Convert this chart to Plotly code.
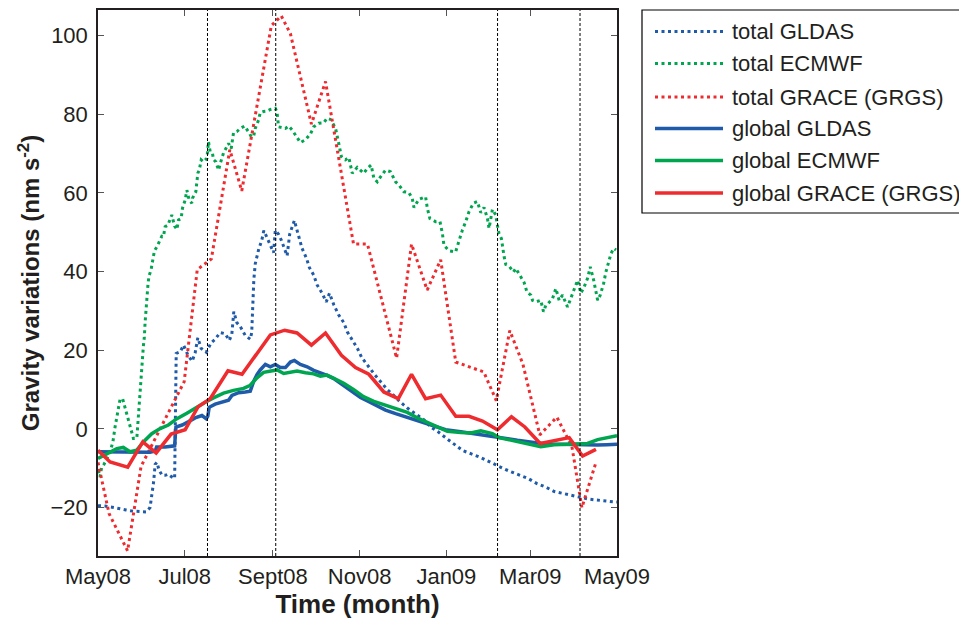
import pandas as pd
import plotly.graph_objects as go

START = pd.Timestamp("2008-05-01")

# ---- total GLDAS (days since 1 May 2008, values nm s^-2)
gldas_total_day = [0, 4.9, 9.9, 14.8, 19.7, 24.7, 29.6, 33.8, 36.6, 38.0, 39.1, 40.2, 41.4, 43.0, 45.1, 47.2,
                   49.3, 51.9, 53.9, 55.0, 57.8, 60.2, 63.2, 66.2, 68.3, 70.2, 72.5, 76.1, 79.6, 82.4, 85.9,
                   89.5, 92.3, 94.1, 95.5, 97.7, 100.1, 103.5, 107.1, 108.1, 108.9, 109.6, 110.6, 112.9, 115.2,
                   116.6, 118.4, 121.2, 123.5, 124.7, 127.0, 128.9, 130.7, 133.0, 134.8, 136.5, 138.1, 140.0,
                   141.9, 143.5, 146.6, 148.7, 151.7, 154.1, 157.6, 160.5, 162.8, 165.9, 169.2, 172.9, 175.3,
                   178.8, 182.4, 185.4, 190.1, 194.8, 198.8, 203.5, 208.1, 212.1, 217.6, 223.4, 229.3, 234.0,
                   239.4, 245.8, 251.6, 256.5, 262.2, 268.7, 275.1, 279.8, 284.7, 289.8, 296.2, 302.5, 308.7,
                   315.0, 320.9, 326.8, 333.1, 339.2, 344.4, 348.6, 355.0, 359.4, 365.0]
gldas_total = [-19.5, -19.6, -19.9, -20.3, -20.6, -20.9, -21.0, -21.1, -20.0, -16.5, -13.5, -9.0, -8.5, -10.5,
               -11.8, -11.8, -11.5, -12.2, -12.6, 19.2, 19.6, 21.3, 18.8, 17.2, 19.3, 23.2, 20.5, 19.5, 21.9,
               22.8, 24.5, 24.2, 22.5, 24.0, 29.8, 27.0, 26.0, 23.8, 22.8, 24.5, 32.5, 38.0, 42.0, 45.5, 48.0,
               50.4, 49.0, 46.5, 44.8, 50.5, 49.5, 48.0, 46.0, 44.0, 49.5, 51.4, 53.0, 50.5, 48.0, 45.9, 43.4,
               41.0, 39.1, 36.6, 34.5, 32.3, 34.5, 31.5, 29.0, 27.0, 24.7, 22.6, 20.5, 18.2, 15.8, 13.7, 12.0,
               10.0, 8.5, 7.0, 5.3, 3.9, 2.3, 0.5, -0.8, -2.6, -4.3, -5.5, -6.3, -7.2, -8.3, -9.2, -10.0, -10.8,
               -11.8, -12.6, -13.9, -14.8, -15.9, -16.4, -16.9, -17.3, -17.8, -18.0, -18.3, -18.4, -18.6]

# ---- total ECMWF
ecmwf_total_day = [0.2, 1.4, 2.6, 4.2, 8.5, 10.6, 12.0, 13.9, 15.5, 17.3, 19.5, 21.3, 23.3, 24.9, 27.3, 28.4,
                   29.6, 30.8, 31.5, 31.9, 32.6, 33.1, 33.8, 34.5, 35.2, 35.9, 37.3, 38.3, 39.7, 41.4, 43.7,
                   44.9, 46.0, 47.2, 49.1, 50.7, 51.9, 53.8, 55.5, 56.6, 58.5, 59.4, 61.3, 62.5, 64.1, 66.0,
                   66.4, 68.8, 69.5, 70.2, 71.2, 72.6, 74.2, 76.6, 77.7, 78.9, 80.5, 81.2, 82.9, 84.8, 86.0,
                   88.3, 90.7, 91.8, 93.7, 95.3, 97.7, 100.1, 103.1, 104.8, 106.4, 107.8, 109.4, 110.6, 112.9,
                   114.1, 116.5, 119.1, 121.2, 124.7, 125.9, 127.0, 128.2, 130.6, 131.8, 134.1, 136.5, 140.0,
                   142.3, 145.9, 149.4, 151.7, 155.2, 158.7, 161.1, 163.5, 167.0, 169.3, 171.2, 172.8, 174.0,
                   176.4, 178.8, 182.3, 184.6, 186.9, 189.3, 192.1, 194.0, 196.4, 198.7, 202.2, 205.7, 209.3,
                   211.6, 215.1, 218.6, 221.0, 222.2, 225.7, 230.4, 231.6, 233.4, 237.4, 240.5, 242.2, 243.3,
                   246.8, 251.5, 253.9, 256.3, 258.6, 260.9, 264.0, 266.8, 269.2, 271.5, 273.9, 275.0, 277.4,
                   279.7, 280.9, 282.0, 283.7, 284.4, 285.6, 286.8, 289.1, 292.2, 293.8, 297.3, 299.7, 301.6,
                   304.4, 305.6, 307.9, 311.4, 313.3, 315.0, 316.6, 319.7, 322.0, 324.3, 326.7, 330.2, 332.6,
                   335.4, 337.3, 339.6, 341.9, 344.3, 346.2, 348.6, 351.4, 353.2, 355.6, 357.2, 359.5, 360.8,
                   362.7, 364.3]
ecmwf_total = [-10.5, -12.2, -9.7, -9.0, -6.0, -3.0, 0.5, 4.8, 7.5, 7.7, 4.8, 2.2, -0.3, -2.4, -2.4, 2.6,
               8.1, 14.5, 19.0, 21.0, 23.4, 27.0, 31.0, 34.0, 37.0, 38.9, 40.4, 42.5, 45.3, 46.3, 48.2,
               49.0, 48.9, 51.4, 51.8, 53.1, 54.4, 51.6, 50.7, 53.1, 53.5, 56.1, 58.2, 60.7, 58.2, 57.4,
               58.6, 60.3, 62.9, 65.0, 65.8, 68.4, 67.9, 68.8, 73.0, 70.5, 70.1, 68.5, 67.9, 65.8, 67.5,
               70.2, 71.8, 72.6, 71.3, 75.3, 75.6, 76.4, 77.0, 76.2, 75.2, 74.3, 74.3, 76.4, 78.5,
               80.4, 80.7, 80.8, 81.2, 81.5, 80.5, 76.8, 76.7, 76.4, 76.4, 77.0, 76.0, 74.1,
               72.8, 73.5, 75.0, 76.8, 77.7, 77.8, 79.0, 78.7, 76.5, 72.6, 69.2, 68.5, 68.4,
               69.0, 65.0, 66.5, 65.8, 65.0, 66.2, 67.1, 63.7, 62.8, 64.1, 65.8, 65.4, 62.8,
               62.0, 60.3, 60.1, 58.6, 56.3, 58.4, 59.0, 56.1, 53.5, 52.7, 52.7, 49.7, 46.7,
               45.3, 45.0, 48.0, 50.6, 52.7, 55.2, 57.4, 57.8, 55.0, 56.3, 53.5, 51.0, 55.8,
               54.4, 51.8, 49.7, 48.4, 46.3, 43.8, 41.8, 41.4, 39.9, 40.8, 38.7, 37.2, 34.9,
               34.0, 32.7, 32.3, 32.7, 29.8, 31.5, 31.9, 33.2, 35.7, 32.7, 34.0, 31.0, 33.2,
               35.7, 37.8, 34.5, 36.1, 38.3, 41.2, 37.8, 32.7, 34.0, 37.0, 39.9, 42.9, 44.6,
               45.9, 45.5]

# ---- total GRACE (GRGS)
grace_total_day = [0, 7.75, 20.8, 30.3, 60.6, 69.8, 79.7, 92.7, 101.1, 121.9, 128.9, 135.3, 150.1, 160.0,
                   179.7, 189.5, 210.0, 220.5, 231.5, 241.0, 251.6, 271.3, 280.1, 289.6, 298.8, 310.7,
                   322.7, 333.3, 340.3, 350.2]
grace_total = [-8.5, -21.5, -31.0, -9.5, 12.0, 40.5, 43.2, 71.0, 60.5, 102.5, 105.0, 100.5, 77.5, 88.3,
               47.0, 47.0, 18.0, 47.0, 35.3, 43.0, 17.0, 14.5, 7.2, 25.0, 16.5, -1.5, 3.0, -4.5, -20.0, -8.5]

# ---- global GLDAS
gldas_global_day = [0, 8.5, 19.0, 29.6, 36.6, 40.2, 41.2, 47.2, 53.9, 54.8, 59.2, 63.4, 68.3, 73.1, 76.1,
                    77.2, 78.2, 82.4, 87.2, 91.8, 94.2, 98.9, 103.6, 107.1, 109.4, 111.8, 114.1, 117.7, 121.2,
                    124.7, 128.2, 131.8, 135.3, 138.1, 142.3, 147.1, 151.7, 156.4, 161.1, 165.8, 170.5, 175.2,
                    179.9, 184.6, 189.5, 195.2, 202.2, 209.3, 216.3, 223.4, 230.4, 238.6, 244.5, 255.1, 264.4,
                    272.7, 280.9, 288.2, 295.0, 302.1, 309.1, 316.2, 323.2, 331.2, 339.6, 351.4, 357.9, 365.0]
gldas_global = [-5.8, -5.8, -5.7, -5.9, -5.9, -5.6, -4.6, -4.6, -4.3, 0.5, 1.0, 1.8, 2.8, 3.4, 2.6,
                3.2, 5.5, 6.3, 6.9, 7.3, 8.5, 9.2, 9.4, 9.6, 12.0, 13.8, 15.0, 16.4, 15.8,
                16.4, 15.6, 15.6, 17.0, 17.4, 16.4, 15.8, 14.9, 14.3, 13.6, 12.8, 11.6, 10.2,
                9.2, 8.0, 7.1, 6.0, 4.8, 3.9, 3.1, 2.4, 1.6, 0.5, -0.2, -0.7, -1.2,
                -1.5, -1.9, -2.5, -2.9, -3.3, -3.6, -3.8, -3.9, -4.0, -4.1, -4.1, -4.0, -3.9]

# ---- global ECMWF
ecmwf_global_day = [0, 4.2, 7.3, 13.2, 17.8, 22.5, 27.3, 31.9, 37.8, 43.7, 49.5, 55.5, 62.5, 69.5, 75.4,
                    81.2, 88.3, 95.3, 102.4, 107.1, 111.8, 116.5, 121.2, 125.9, 130.6, 135.3, 140.0, 145.9,
                    151.7, 156.4, 161.1, 165.8, 172.8, 179.9, 186.7, 194.0, 201.0, 209.3, 217.5, 225.7, 232.7,
                    239.8, 245.7, 255.1, 262.1, 269.2, 277.4, 282.0, 288.2, 295.0, 304.4, 311.4, 320.8, 327.6,
                    334.9, 344.3, 351.4, 358.4, 365.0]
ecmwf_global = [-7.5, -6.7, -6.3, -5.0, -4.7, -5.8, -5.4, -3.3, -1.2, 0.1, 1.0, 2.6, 4.0, 5.6, 6.8,
                7.9, 9.1, 9.8, 10.3, 11.1, 13.0, 14.4, 14.8, 15.0, 14.1, 14.5, 14.7, 14.3,
                14.0, 13.4, 13.7, 12.9, 11.6, 10.0, 8.2, 7.0, 6.2, 5.3, 4.2, 2.6, 1.4,
                0.4, -0.6, -0.9, -1.0, -0.5, -1.2, -2.2, -2.7, -3.2, -3.9, -4.5, -4.0, -3.9,
                -3.9, -3.7, -2.7, -2.2, -1.7]

# ---- global GRACE (GRGS), 10-day solutions
grace_global_day = [0, 8.5, 20.9, 31.5, 40.9, 51.4, 61.3, 70.3, 78.9, 91.4, 101.3, 111.1, 121.2, 131.3,
                    140.0, 150.1, 160.0, 171.2, 181.1, 190.5, 201.0, 211.2, 220.5, 230.4, 241.0, 251.6,
                    260.9, 270.4, 280.9, 290.8, 300.2, 311.0, 320.8, 331.4, 340.8, 350.2]
grace_global = [-5.4, -8.4, -9.7, -3.3, -6.1, -1.3, -0.2, 5.6, 7.7, 14.8, 13.9, 18.8, 23.9, 25.1,
                24.4, 21.3, 24.4, 18.7, 15.6, 13.9, 9.4, 7.7, 13.9, 7.7, 8.6, 3.2,
                3.2, 2.0, -0.2, 3.1, 0.5, -3.7, -3.0, -2.2, -6.9, -5.2]

# ---- marked dates (vertical dashed lines)
event_dates = ["2008-07-17", "2008-09-03", "2009-02-06", "2009-04-05"]

# ---- axis ticks
x_tick_dates = ["2008-05-01", "2008-07-01", "2008-09-01", "2008-11-01", "2009-01-01", "2009-03-01", "2009-05-01"]
x_tick_text = ["May08", "Jul08", "Sept08", "Nov08", "Jan09", "Mar09", "May09"]
y_ticks = [-20, 0, 20, 40, 60, 80, 100]

BLUE = "#1f5ba8"
GREEN = "#00a54f"
RED = "#ee2b2f"
INK = "#231f20"
FONT = "Liberation Sans, Arial, Helvetica, sans-serif"
DOT = "3px,3.5px"

# page body keeps an 8px margin: figure is sized so the page matches the 967x622 window
W, H, OFF = 959, 614, 8


def to_dates(days):
    return START + pd.to_timedelta(days, unit="D")


series = [
    ("total GLDAS", gldas_total_day, gldas_total, BLUE, DOT, 3),
    ("total ECMWF", ecmwf_total_day, ecmwf_total, GREEN, DOT, 3),
    ("total GRACE (GRGS)", grace_total_day, grace_total, RED, DOT, 3),
    ("global GLDAS", gldas_global_day, gldas_global, BLUE, "solid", 3.5),
    ("global ECMWF", ecmwf_global_day, ecmwf_global, GREEN, "solid", 3.5),
    ("global GRACE (GRGS)", grace_global_day, grace_global, RED, "solid", 3.5),
]

fig = go.Figure()
for name, d, v, color, dash, w in series:
    fig.add_trace(go.Scatter(x=to_dates(d), y=v, mode="lines", name=name,
                             line=dict(color=color, dash=dash, width=w), showlegend=False))

shapes = []
for ed in event_dates:
    shapes.append(dict(type="line", xref="x", yref="paper", x0=ed, x1=ed, y0=0, y1=1,
                       line=dict(color="black", width=1, dash="3px,2px")))

# plot area in screen pixels
PLOT_L, PLOT_R, PLOT_T, PLOT_B = 98, 617, 10, 556
def px_x(p):
    return (p - PLOT_L) / (PLOT_R - PLOT_L)
def px_y(p):
    return (PLOT_B - p) / (PLOT_B - PLOT_T)

# custom legend (box, samples, labels)
shapes.append(dict(type="rect", xref="paper", yref="paper", x0=px_x(642), x1=px_x(966),
                   y0=px_y(213), y1=px_y(10), line=dict(color="black", width=1.2), fillcolor="white",
                   layer="below"))
annotations = []
legend_rows = [31.5, 63.5, 97, 128.5, 160.5, 193]
for (name, d, v, color, dash, w), ry in zip(series, legend_rows):
    shapes.append(dict(type="line", xref="paper", yref="paper", x0=px_x(655), x1=px_x(723),
                       y0=px_y(ry), y1=px_y(ry), line=dict(color=color, width=w, dash=dash)))
    annotations.append(dict(xref="paper", yref="paper", x=px_x(730), y=px_y(ry), text=name,
                            showarrow=False, xanchor="left", yanchor="middle",
                            font=dict(family=FONT, size=22, color=INK)))

fig.update_layout(
    width=W, height=H,
    margin=dict(l=PLOT_L - OFF, r=W + OFF - PLOT_R, t=PLOT_T - OFF, b=H + OFF - PLOT_B, autoexpand=False),
    paper_bgcolor="white", plot_bgcolor="white",
    font=dict(family=FONT, color=INK),
    shapes=shapes, annotations=annotations,
    showlegend=False,
)
fig.update_xaxes(
    type="date", range=["2008-05-01", "2009-05-01"], automargin=False,
    tickvals=x_tick_dates, ticktext=x_tick_text,
    tickfont=dict(size=22, family=FONT, color=INK),
    ticks="inside", ticklen=6, tickwidth=1.2, tickcolor="#555",
    showline=True, linecolor=INK, linewidth=1.5, mirror="ticks",
    showgrid=False, zeroline=False,
    title=dict(text="<b>Time (month)</b>", font=dict(size=26, family=FONT, color=INK), standoff=4),
)
fig.update_yaxes(
    range=[-32.3, 106.5], tickvals=y_ticks, automargin=False,
    tickfont=dict(size=22, family=FONT, color=INK), ticklabelstandoff=4,
    ticks="inside", ticklen=6, tickwidth=1.2, tickcolor="#555",
    showline=True, linecolor=INK, linewidth=1.5, mirror="ticks",
    showgrid=False, zeroline=False,
    title=dict(text="<b>Gravity variations (nm s<sup>-2</sup>)</b>",
               font=dict(size=24, family=FONT, color=INK), standoff=4),
)

fig.write_html("out.html")
